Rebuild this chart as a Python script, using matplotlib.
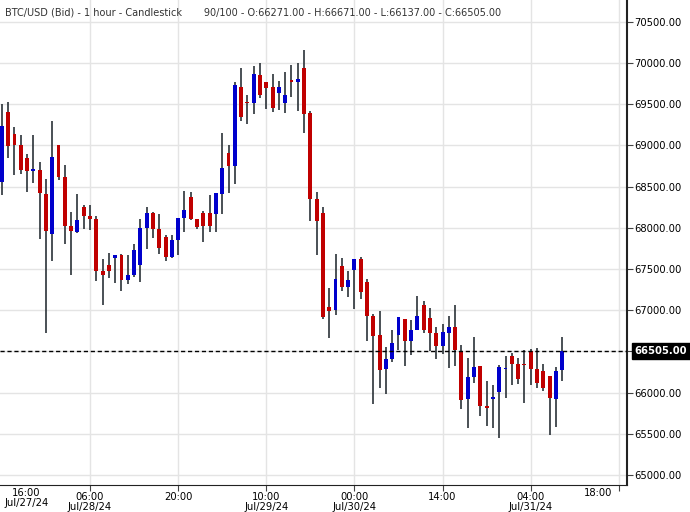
import numpy as np
import matplotlib.pyplot as plt

# hourly BTC/USD candles
opens = [68561, 69407, 69143, 69006, 68848, 68694, 68702, 68411, 67929, 69006,
         68617, 68022, 67950, 68253, 68148, 68107, 67476, 67549, 67638, 67671,
         67371, 67428, 67553, 68002, 68180, 67986, 67889, 67646, 67857, 68124,
         68374, 68107, 68180, 68180, 68168, 68411, 68909, 68751, 69710, 69528,
         69516, 69856, 69771, 69710, 69637, 69516, 69795, 69771, 69941, 69394,
         68350, 68180, 67039, 67007, 67537, 67282, 67488, 67622, 67343, 66930,
         66699, 66286, 66408, 66699, 66894, 66626, 66760, 67063, 66906, 66724,
         66566, 66724, 66796, 66493, 65922, 66189, 66323, 65837, 65922, 66007,
         66286, 66444, 66347, 66347, 66505, 66286, 66262, 66201, 65922, 66271]
highs = [69504, 69528, 69224, 69127, 68897, 69127, 68799, 68589, 69297, 69006,
         68763, 68192, 68411, 68277, 68277, 68140, 67622, 67695, 67671, 67683,
         67671, 67804, 68107, 68253, 68192, 68168, 67913, 67913, 68119, 68447,
         68435, 68107, 68205, 68399, 68423, 69151, 69006, 69771, 69941, 69613,
         69965, 70001, 69771, 69868, 69783, 69892, 69977, 70001, 70159, 69419,
         68435, 68250, 67270, 67683, 67634, 67476, 67622, 67646, 67379, 66954,
         66991, 66554, 66760, 66918, 66894, 66881, 67173, 67112, 67027, 66796,
         66833, 66930, 67063, 66578, 66420, 66675, 66323, 66141, 66092, 66335,
         66444, 66481, 66420, 66517, 66529, 66541, 66347, 66201, 66311, 66671]
lows = [68399, 68852, 68642, 68654, 68439, 68549, 67869, 66719, 67602, 68581,
        67808, 67432, 67938, 67990, 67978, 67359, 67067, 67395, 67335, 67237,
        67322, 67407, 67343, 67743, 67881, 67686, 67601, 67634, 67674, 67954,
        68095, 67986, 67828, 67950, 67950, 68168, 68423, 68532, 69297, 69261,
        69382, 69576, 69443, 69406, 69431, 69394, 69589, 69419, 69152, 68083,
        67670, 66898, 66663, 66946, 67233, 67161, 67015, 67136, 66626, 65861,
        66056, 65983, 66371, 66517, 66323, 66456, 66760, 66724, 66505, 66408,
        66469, 66299, 66323, 65801, 65570, 66116, 65716, 65595, 65570, 65449,
        65934, 66092, 66104, 65874, 66092, 66056, 66019, 65485, 65582, 66137]
closes = [69237, 68998, 69006, 68702, 68694, 68714, 68427, 67962, 68860, 68621,
          68026, 67966, 68095, 68148, 68107, 67480, 67428, 67476, 67671, 67371,
          67428, 67731, 67998, 68180, 67990, 67759, 67650, 67852, 68119, 68217,
          68107, 68010, 68022, 68022, 68423, 68727, 68751, 69734, 69346, 69516,
          69868, 69613, 69698, 69455, 69710, 69613, 69771, 69807, 69382, 68350,
          68083, 66922, 66995, 67379, 67282, 67367, 67622, 67221, 66930, 66687,
          66274, 66408, 66602, 66918, 66626, 66760, 66930, 66760, 66724, 66566,
          66736, 66796, 66517, 65910, 66189, 66311, 65837, 65813, 65946, 66311,
          66298, 66347, 66165, 66335, 66286, 66116, 66056, 65934, 66262, 66505]

tick_idx = [14, 28, 42, 56, 70, 84]
tick_labels = ["06:00\nJul/28/24", "20:00", "10:00\nJul/29/24", "00:00\nJul/30/24",
               "14:00", "04:00\nJul/31/24"]
last_price = 66505.00
title = ("BTC/USD (Bid) - 1 hour - Candlestick       90/100 - O:66271.00 - "
         "H:66671.00 - L:66137.00 - C:66505.00")

up_col, down_col, wick_col = "#0000cc", "#c00000", "#2b3238"

fig = plt.figure(figsize=(6.9, 5.12), dpi=100)
ax = fig.add_axes([0, 27 / 512, 627 / 690, 485 / 512])

x = np.arange(len(opens))
o, h, l, c = map(np.array, (opens, highs, lows, closes))
ax.vlines(x, l, h, color=wick_col, linewidth=1.2, zorder=2)
body_lo = np.minimum(o, c)
body_h = np.maximum(np.abs(c - o), 12)
cols = [up_col if cc >= oo else down_col for oo, cc in zip(o, c)]
ax.bar(x, body_h, bottom=body_lo, width=0.62, color=cols, zorder=3)

ax.set_xlim(-0.3, 99.3)
ax.set_ylim(64878, 70766)
ax.set_xticks(tick_idx + [98])
ax.set_xticklabels(tick_labels + [""], fontsize=7.2, linespacing=0.95)
ax.text(3.9, -0.006, "16:00\nJul/27/24", transform=ax.get_xaxis_transform(),
        ha="center", va="top", fontsize=7.2, linespacing=0.95)
ax.text(94.7, -0.006, "18:00", transform=ax.get_xaxis_transform(),
        ha="center", va="top", fontsize=7.2)
ax.set_yticks(np.arange(65000, 70501, 500))
ax.set_yticklabels([f"{v:.2f}" for v in np.arange(65000, 70501, 500)], fontsize=7.2)
ax.yaxis.tick_right()
ax.tick_params(axis="both", length=4, color="#444444", pad=1)
ax.grid(True, color="#e4e4e4", linewidth=1, zorder=0)
ax.set_axisbelow(True)
for s in ("top", "left"):
    ax.spines[s].set_visible(False)
ax.spines["right"].set_color("#222222")
ax.spines["bottom"].set_color("#222222")
ax.spines["right"].set_linewidth(1.5)

ax.axhline(last_price, color="black", linestyle=(0, (3, 2)), linewidth=1, zorder=4)
ax.text(1.012, last_price, f"{last_price:.2f}", transform=ax.get_yaxis_transform(),
        ha="left", va="center", fontsize=7.2, fontweight="bold", color="white",
        bbox=dict(boxstyle="square,pad=0.3", fc="black", ec="black"),
        clip_on=False, zorder=10)

ax.text(0.008, 0.985, title, transform=ax.transAxes, ha="left", va="top",
        fontsize=7, color="#333333")

fig.savefig("out.png", dpi=100)
